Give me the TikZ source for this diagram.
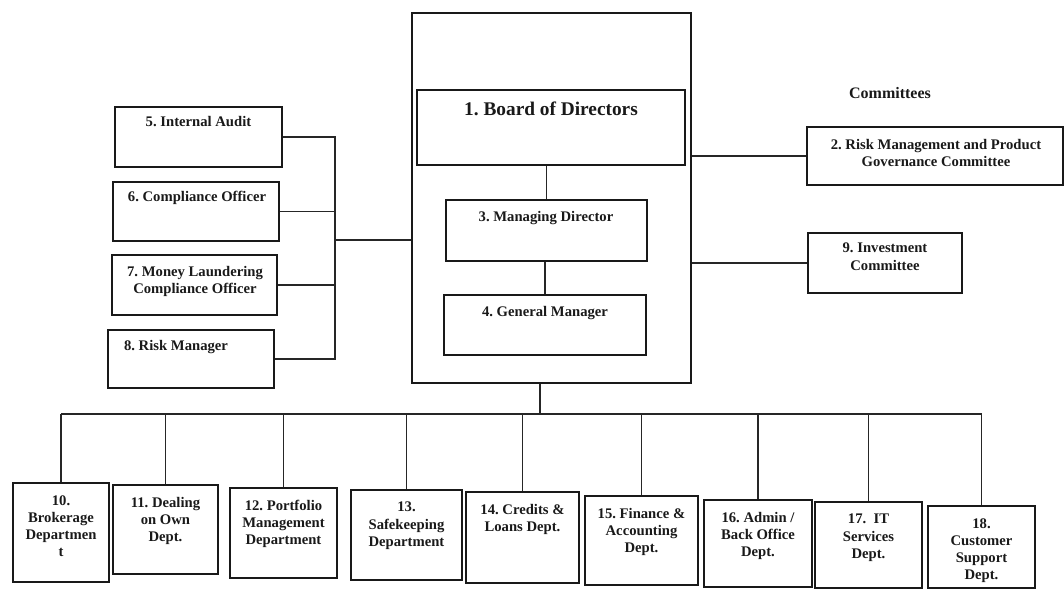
\documentclass[tikz,border=0pt]{standalone}
\usepackage{fontspec}
\setmainfont{Liberation Serif}
\usetikzlibrary{fit}
\frenchspacing
\begin{document}
\begin{tikzpicture}[x=0.75pt,y=-0.75pt,
  bx/.style={draw=black!90, line width=1.2pt, inner sep=0pt},
  lbl/.style={font=\bfseries\fontsize{11}{12.8}\selectfont, text=black!90, align=center, inner sep=0pt, anchor=north},
  ln/.style={draw=black!85, line width=1.1pt}]
\useasboundingbox (0,0) rectangle (1064,589);
% central block
\node[bx, fit={(412,13)(691,383)}] (outer) {};
\node[bx, fit={(417,90)(685,165)}] (bod) {};
\node[bx, fit={(446,200)(647,261)}] (md) {};
\node[bx, fit={(444,295)(646,355)}] (gm) {};
\node[lbl, font=\bfseries\fontsize{14.5}{17}\selectfont] (t1) at (551,102) {1. Board of Directors};
\node[lbl] (t3) at (546,211) {3. Managing Director};
\node[lbl] (t4) at (545,306) {4. General Manager};
% left boxes
\node[bx, fit={(115,107)(282,167)}] (a5) {};
\node[bx, fit={(113,182)(279,241)}] (a6) {};
\node[bx, fit={(112,255)(277,315)}] (a7) {};
\node[bx, fit={(108,330)(274,388)}] (a8) {};
\node[lbl] (t5) at (198.5,116) {5. Internal Audit};
\node[lbl] (t6) at (197,191) {6. Compliance Officer};
\node[lbl] (t7) at (195,266) {7. Money Laundering\\Compliance Officer};
\node[lbl] (t8) at (176,340) {8. Risk Manager};
% committees
\node[lbl, font=\bfseries\fontsize{12}{14}\selectfont] (tc) at (890,87) {Committees};
\node[bx, fit={(807,127)(1063,185)}] (c2) {};
\node[bx, fit={(808,233)(962,293)}] (c9) {};
\node[lbl] (t2) at (936,139) {2. Risk Management and Product\\Governance Committee};
\node[lbl] (t9) at (885,243) {9. Investment\\Committee};
% departments
\node[bx, fit={(13,483)(109,582)}] (d10) {};
\node[bx, fit={(113,485)(218,574)}] (d11) {};
\node[bx, fit={(230,488)(337,578)}] (d12) {};
\node[bx, fit={(351,490)(462,580)}] (d13) {};
\node[bx, fit={(466,492)(579,583)}] (d14) {};
\node[bx, fit={(585,496)(698,585)}] (d15) {};
\node[bx, fit={(704,500)(812,587)}] (d16) {};
\node[bx, fit={(815,502)(922,588)}] (d17) {};
\node[bx, fit={(928,506)(1035,588)}] (d18) {};
\node[lbl] (t10) at (61,495) {10.\\Brokerage\\Departmen\\t};
\node[lbl] (t11) at (165.5,497) {11. Dealing\\on Own\\Dept.};
\node[lbl] (t12) at (283.5,500) {12. Portfolio\\Management\\Department};
\node[lbl] (t13) at (406.5,502) {13.\\Safekeeping\\Department};
\node[lbl] (t14) at (522.5,504) {14. Credits \&\\Loans Dept.};
\node[lbl] (t15) at (641.5,508) {15. Finance \&\\Accounting\\Dept.};
\node[lbl] (t16) at (758,512) {16. Admin /\\Back Office\\Dept.};
\node[lbl] (t17) at (868.5,514) {17.~ IT\\Services\\Dept.};
\node[lbl] (t18) at (981.5,518) {18.\\Customer\\Support\\Dept.};
% connectors inside central block
\draw[ln] (md.north) -- (md.north |- bod.south);
\draw[ln] (gm.north) -- (gm.north |- md.south);
% left tree
\coordinate (tr) at (335,240);
\draw[ln] (a5.east) -| (tr) |- (a8.east);
\draw[ln] (a6.east) -- (a6.east -| tr);
\draw[ln] (a7.east) -- (a7.east -| tr);
\draw[ln] (tr) -- (tr -| outer.west);
% committees
\draw[ln] (outer.east |- c2.west) -- (c2.west);
\draw[ln] (outer.east |- c9.west) -- (c9.west);
% departments bus
\coordinate (j) at (540,414);
\draw[ln] (outer.south -| j) -- (j);
\draw[ln] (d10.north |- j) -- (d18.north |- j);
\foreach \d in {d10,d11,d12,d13,d14,d15,d16,d17,d18}
  \draw[ln] (\d.north) -- (\d.north |- j);
\end{tikzpicture}
\end{document}
